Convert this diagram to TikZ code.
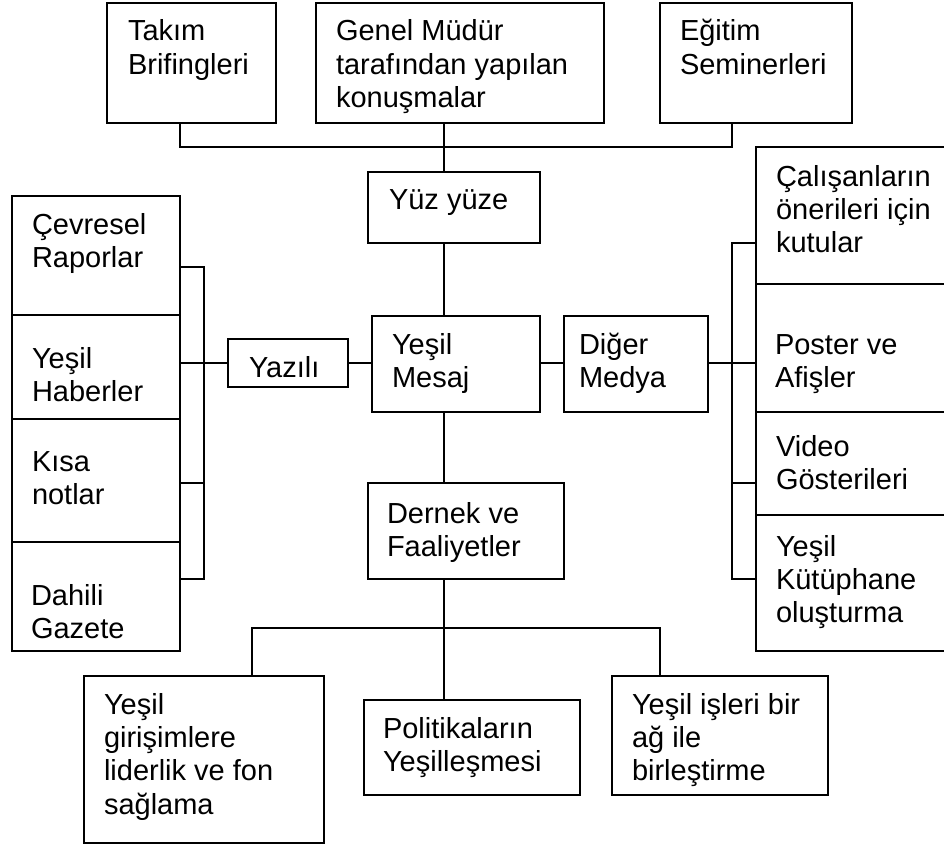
\documentclass[tikz,border=0pt]{standalone}
\usepackage{fontspec}
\setmainfont{Liberation Sans}
\begin{document}
\begin{tikzpicture}[x=1pt,y=-1pt,
  box/.style={draw=black,line width=2.2pt,rectangle,inner sep=0pt,outer sep=0pt},
  wire/.style={draw=black,line width=2.2pt},
  lbl/.style={inner sep=0pt,outer sep=0pt,anchor=base west,
    font=\fontsize{29}{33.4}\selectfont}]
% box: name, left, top, right, bottom
\newcommand\mkbox[5]{\node[box,minimum width={#4-#2},minimum height={#5-#3}]
  (#1) at ({(#2+#4)/2},{(#3+#5)/2}) {};}
% left-aligned text block, first baseline at (x,y); lines separated by \cr
\newcommand\mktext[4]{\node[lbl] (#1) at (#2,#3)
  {\vtop{\lineskiplimit=-100pt\lineskip=0pt\halign{##\hfil\cr#4\crcr}}};}

\fill[white] (0,0) rectangle (944,848);
\useasboundingbox (0,0) rectangle (944,848);
\clip (0,0) rectangle (944,848);

% top row
\mkbox{takim}{107}{3}{276}{123}
\mkbox{genel}{316}{3}{604}{123}
\mkbox{egitim}{660}{3}{852}{123}
\mkbox{yuz}{368}{172}{540}{243}
% left column
\mkbox{cevresel}{12}{196}{180}{315}
\mkbox{haber}{12}{315}{180}{419}
\mkbox{kisa}{12}{419}{180}{542}
\mkbox{dahili}{12}{542}{180}{651}
% middle row
\mkbox{yazili}{228}{339}{348}{387}
\mkbox{mesaj}{372}{316}{540}{412}
\mkbox{diger}{564}{316}{708}{412}
\mkbox{dernek}{368}{483}{564}{579}
% right column
\mkbox{calisan}{756}{147}{960}{284}
\mkbox{poster}{756}{284}{960}{412}
\mkbox{video}{756}{412}{960}{515}
\mkbox{kutup}{756}{515}{960}{651}
% bottom row
\mkbox{girisim}{84}{676}{324}{843}
\mkbox{politika}{364}{700}{580}{795}
\mkbox{isleri}{612}{676}{828}{795}

% texts
\mktext{takim-t}{128}{41}{Takım\cr Brifingleri}
\mktext{genel-t}{336}{41}{Genel Müdür\cr tarafından yapılan\cr konuşmalar}
\mktext{egitim-t}{680}{41}{Eğitim\cr Seminerleri}
\mktext{yuz-t}{389}{209}{Yüz yüze}
\mktext{cevresel-t}{32}{234}{Çevresel\cr Raporlar}
\mktext{haber-t}{32}{368}{Yeşil\cr Haberler}
\mktext{kisa-t}{32}{471}{Kısa\cr notlar}
\mktext{dahili-t}{31}{605}{Dahili\cr Gazete}
\mktext{yazili-t}{249}{377}{Yazılı}
\mktext{mesaj-t}{392}{354}{Yeşil\cr Mesaj}
\mktext{diger-t}{579}{354}{Diğer\cr Medya}
\mktext{dernek-t}{387}{523}{Dernek ve\cr Faaliyetler}
\mktext{calisan-t}{776}{186}{Çalışanların\cr önerileri için\cr kutular}
\mktext{poster-t}{775}{354}{Poster ve\cr Afişler}
\mktext{video-t}{776}{456}{Video\cr Gösterileri}
\mktext{kutup-t}{776}{556}{Yeşil\cr Kütüphane\cr oluşturma}
\mktext{girisim-t}{104}{714}{Yeşil\cr girişimlere\cr liderlik ve fon\cr sağlama}
\mktext{politika-t}{383}{738}{Politikaların\cr Yeşilleşmesi}
\mktext{isleri-t}{632}{714}{Yeşil işleri bir\cr ağ ile\cr birleştirme}

% junction points
\coordinate (tb1) at (180,147);
\coordinate (tb2) at (444,147);
\coordinate (tb3) at (732,147);
\coordinate (lb1) at (204,267);
\coordinate (lb2) at (204,363);
\coordinate (lb3) at (204,483);
\coordinate (lb4) at (204,579);
\coordinate (rb1) at (732,243);
\coordinate (rb2) at (732,363);
\coordinate (rb3) at (732,483);
\coordinate (rb4) at (732,579);
\coordinate (bb1) at (252,628);
\coordinate (bb3) at (660,628);

% top bus
\draw[wire] (takim.south -| tb1) |- (tb3) -- (egitim.south -| tb3);
% central spine
\draw[wire] (genel.south -| tb2) -- (yuz.north -| tb2);
\draw[wire] (yuz.south -| tb2) -- (mesaj.north -| tb2);
\draw[wire] (mesaj.south -| tb2) -- (dernek.north -| tb2);
\draw[wire] (dernek.south -| tb2) -- (politika.north -| tb2);
% bottom bus
\draw[wire] (girisim.north -| bb1) |- (bb3) -- (isleri.north -| bb3);
% left bracket
\draw[wire] (cevresel.east |- lb1) -- (lb1) -- (lb4) -- (dahili.east |- lb4);
\draw[wire] (haber.east |- yazili.west) -- (yazili.west);
\draw[wire] (kisa.east |- lb3) -- (lb3);
% middle links
\draw[wire] (yazili.east) -- (mesaj.west |- yazili.east);
\draw[wire] (mesaj.east |- yazili.east) -- (diger.west |- yazili.east);
% right bracket
\draw[wire] (calisan.west |- rb1) -- (rb1) -- (rb4) -- (kutup.west |- rb4);
\draw[wire] (diger.east |- rb2) -- (poster.west |- rb2);
\draw[wire] (video.west |- rb3) -- (rb3);
\end{tikzpicture}
\end{document}
